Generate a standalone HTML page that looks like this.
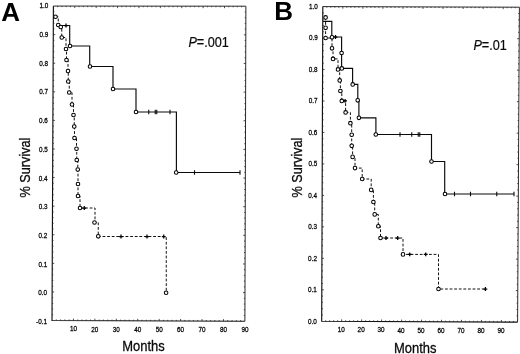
<!DOCTYPE html>
<html><head><meta charset="utf-8"><title>Survival curves</title>
<style>
html,body{margin:0;padding:0;background:#fff;}
body{width:520px;height:354px;overflow:hidden;}
svg{display:block;filter:grayscale(1);}
text{font-family:"Liberation Sans",sans-serif;fill:#0a0a0a;}
.tk{font-size:6.9px;fill:#000;stroke:#000;stroke-width:0.25;}
.ax{font-size:15px;stroke:#0a0a0a;stroke-width:0.3;}
.px{font-size:14.3px;stroke:#0a0a0a;stroke-width:0.2;}
.pl{font-size:26px;font-weight:bold;fill:#000;}
.ln{fill:none;stroke:#0a0a0a;stroke-width:1.15;}
.ds{fill:none;stroke:#111;stroke-width:1;stroke-dasharray:2.8 1.8;}
.c{fill:#fff;stroke:#000;stroke-width:1.05;}
.t{stroke:#0a0a0a;stroke-width:1.1;fill:none;}
.p{stroke:#000;stroke-width:1.25;fill:none;}
</style></head><body>
<svg width="520" height="354" viewBox="0 0 520 354">
<rect width="520" height="354" fill="#fff"/>

<path d="M53.4 6.06L245.9 6.2L244.9 321.25" fill="none" stroke="#2a2a2a" stroke-width="1"/>
<path d="M53.4 6.06L52 320.5L244.9 321.25" fill="none" stroke="#111" stroke-width="1.15"/>
<path d="M56.29 320.52v-1.1M57.68 6.06v1.1M60.57 320.53v-1.1M61.96 6.07v1.1M64.86 320.55v-1.1M66.23 6.07v1.1M69.15 320.57v-1.1M70.51 6.07v1.1M73.43 320.58v-2.0M74.79 6.08v2.0M77.72 320.6v-1.1M79.07 6.08v1.1M82.01 320.62v-1.1M83.34 6.08v1.1M86.29 320.63v-1.1M87.62 6.08v1.1M90.58 320.65v-1.1M91.9 6.09v1.1M94.87 320.67v-2.0M96.18 6.09v2.0M99.15 320.68v-1.1M100.46 6.09v1.1M103.44 320.7v-1.1M104.73 6.1v1.1M107.73 320.72v-1.1M109.01 6.1v1.1M112.01 320.73v-1.1M113.29 6.1v1.1M116.3 320.75v-2.0M117.57 6.11v2.0M120.59 320.77v-1.1M121.84 6.11v1.1M124.87 320.78v-1.1M126.12 6.11v1.1M129.16 320.8v-1.1M130.4 6.12v1.1M133.45 320.82v-1.1M134.68 6.12v1.1M137.73 320.83v-2.0M138.96 6.12v2.0M142.02 320.85v-1.1M143.23 6.13v1.1M146.31 320.87v-1.1M147.51 6.13v1.1M150.59 320.88v-1.1M151.79 6.13v1.1M154.88 320.9v-1.1M156.07 6.13v1.1M159.17 320.92v-2.0M160.34 6.14v2.0M163.45 320.93v-1.1M164.62 6.14v1.1M167.74 320.95v-1.1M168.9 6.14v1.1M172.03 320.97v-1.1M173.18 6.15v1.1M176.31 320.98v-1.1M177.46 6.15v1.1M180.6 321v-2.0M181.73 6.15v2.0M184.89 321.02v-1.1M186.01 6.16v1.1M189.17 321.03v-1.1M190.29 6.16v1.1M193.46 321.05v-1.1M194.57 6.16v1.1M197.75 321.07v-1.1M198.84 6.17v1.1M202.03 321.08v-2.0M203.12 6.17v2.0M206.32 321.1v-1.1M207.4 6.17v1.1M210.61 321.12v-1.1M211.68 6.18v1.1M214.89 321.13v-1.1M215.96 6.18v1.1M219.18 321.15v-1.1M220.23 6.18v1.1M223.47 321.17v-2.0M224.51 6.18v2.0M227.75 321.18v-1.1M228.79 6.19v1.1M232.04 321.2v-1.1M233.07 6.19v1.1M236.33 321.22v-1.1M237.34 6.19v1.1M240.61 321.23v-1.1M241.62 6.2v1.1M53.37 11.78h1.1M245.88 11.93h-1.1M53.35 17.49h1.1M245.86 17.66h-1.1M53.32 23.21h1.1M245.85 23.38h-1.1M53.3 28.93h1.1M245.83 29.11h-1.1M53.27 34.65h2.0M245.81 34.84h-2.0M53.25 40.36h1.1M245.79 40.57h-1.1M53.22 46.08h1.1M245.77 46.3h-1.1M53.2 51.8h1.1M245.75 52.03h-1.1M53.17 57.51h1.1M245.74 57.75h-1.1M53.15 63.23h2.0M245.72 63.48h-2.0M53.12 68.95h1.1M245.7 69.21h-1.1M53.09 74.67h1.1M245.68 74.94h-1.1M53.07 80.38h1.1M245.66 80.67h-1.1M53.04 86.1h1.1M245.65 86.39h-1.1M53.02 91.82h2.0M245.63 92.12h-2.0M52.99 97.53h1.1M245.61 97.85h-1.1M52.97 103.25h1.1M245.59 103.58h-1.1M52.94 108.97h1.1M245.57 109.31h-1.1M52.92 114.68h1.1M245.55 115.04h-1.1M52.89 120.4h2.0M245.54 120.76h-2.0M52.87 126.12h1.1M245.52 126.49h-1.1M52.84 131.84h1.1M245.5 132.22h-1.1M52.81 137.55h1.1M245.48 137.95h-1.1M52.79 143.27h1.1M245.46 143.68h-1.1M52.76 148.99h2.0M245.45 149.4h-2.0M52.74 154.7h1.1M245.43 155.13h-1.1M52.71 160.42h1.1M245.41 160.86h-1.1M52.69 166.14h1.1M245.39 166.59h-1.1M52.66 171.86h1.1M245.37 172.32h-1.1M52.64 177.57h2.0M245.35 178.05h-2.0M52.61 183.29h1.1M245.34 183.77h-1.1M52.59 189.01h1.1M245.32 189.5h-1.1M52.56 194.72h1.1M245.3 195.23h-1.1M52.53 200.44h1.1M245.28 200.96h-1.1M52.51 206.16h2.0M245.26 206.69h-2.0M52.48 211.88h1.1M245.25 212.41h-1.1M52.46 217.59h1.1M245.23 218.14h-1.1M52.43 223.31h1.1M245.21 223.87h-1.1M52.41 229.03h1.1M245.19 229.6h-1.1M52.38 234.74h2.0M245.17 235.33h-2.0M52.36 240.46h1.1M245.15 241.06h-1.1M52.33 246.18h1.1M245.14 246.78h-1.1M52.31 251.89h1.1M245.12 252.51h-1.1M52.28 257.61h1.1M245.1 258.24h-1.1M52.25 263.33h2.0M245.08 263.97h-2.0M52.23 269.05h1.1M245.06 269.7h-1.1M52.2 274.76h1.1M245.05 275.42h-1.1M52.18 280.48h1.1M245.03 281.15h-1.1M52.15 286.2h1.1M245.01 286.88h-1.1M52.13 291.91h2.0M244.99 292.61h-2.0M52.1 297.63h1.1M244.97 298.34h-1.1M52.08 303.35h1.1M244.95 304.07h-1.1M52.05 309.07h1.1M244.94 309.79h-1.1M52.03 314.78h1.1M244.92 315.52h-1.1" stroke="#222" stroke-width="0.8" fill="none"/>
<text class="tk" transform="translate(73.43 331.48) scale(0.92 1)" text-anchor="middle">10</text>
<text class="tk" transform="translate(94.87 331.57) scale(0.92 1)" text-anchor="middle">20</text>
<text class="tk" transform="translate(116.3 331.65) scale(0.92 1)" text-anchor="middle">30</text>
<text class="tk" transform="translate(137.73 331.73) scale(0.92 1)" text-anchor="middle">40</text>
<text class="tk" transform="translate(159.17 331.82) scale(0.92 1)" text-anchor="middle">50</text>
<text class="tk" transform="translate(180.6 331.9) scale(0.92 1)" text-anchor="middle">60</text>
<text class="tk" transform="translate(202.03 331.98) scale(0.92 1)" text-anchor="middle">70</text>
<text class="tk" transform="translate(223.47 332.07) scale(0.92 1)" text-anchor="middle">80</text>
<text class="tk" transform="translate(244.9 332.15) scale(0.92 1)" text-anchor="middle">90</text>
<text class="tk" transform="translate(48.4 8.25) scale(0.92 1)" text-anchor="end">1.0</text>
<text class="tk" transform="translate(48.27 36.96) scale(0.92 1)" text-anchor="end">0.9</text>
<text class="tk" transform="translate(48.15 65.67) scale(0.92 1)" text-anchor="end">0.8</text>
<text class="tk" transform="translate(48.02 94.38) scale(0.92 1)" text-anchor="end">0.7</text>
<text class="tk" transform="translate(47.89 123.09) scale(0.92 1)" text-anchor="end">0.6</text>
<text class="tk" transform="translate(47.76 151.8) scale(0.92 1)" text-anchor="end">0.5</text>
<text class="tk" transform="translate(47.64 180.51) scale(0.92 1)" text-anchor="end">0.4</text>
<text class="tk" transform="translate(47.51 209.22) scale(0.92 1)" text-anchor="end">0.3</text>
<text class="tk" transform="translate(47.38 237.93) scale(0.92 1)" text-anchor="end">0.2</text>
<text class="tk" transform="translate(47.25 266.64) scale(0.92 1)" text-anchor="end">0.1</text>
<text class="tk" transform="translate(47.13 295.35) scale(0.92 1)" text-anchor="end">0.0</text>
<text class="tk" transform="translate(47 324.06) scale(0.92 1)" text-anchor="end">-0.1</text>
<text class="pl" x="1.3" y="20.7">A</text>
<text class="ax" transform="translate(143.5 351.4) scale(0.865 1)" text-anchor="middle">Months</text>
<text class="ax" transform="translate(30.4 167.5) rotate(-90) scale(0.845 1)" text-anchor="middle">% Survival</text>
<text class="px" transform="translate(188.4 47) scale(0.885 1)"><tspan font-style="italic">P</tspan>=.001</text>
<path class="ln" d="M60.5 25.5 L69.7 25.5 L69.7 46 L89.7 46 L89.7 66.5 L113 66.5 L113 89 L136 89 L136 112 L176.4 112 L176.4 172.5 L240 172.5"/>
<path class="p" d="M66 23.6v3.8M64.1 25.5h3.8"/>
<path class="t" d="M148.75 109.7v4.6M155.25 109.7v4.6M156.75 109.7v4.6M170 109.7v4.6M194.5 170.2v4.6M240 170.2v4.6"/>
<path class="ds" d="M55.5 16.75 L58.25 16.75 L58.25 25 L60.75 25 L60.75 27 L61.75 27 L61.75 37.5 L66 37.5 L66 49 L66.5 49 L66.5 60 L68 60 L68 71 L68.25 71 L68.25 81.5 L69.25 81.5 L69.25 92.5 L72 92.5 L72 104.5 L73.5 104.5 L73.5 115 L74.25 115 L74.25 126.5 L74.5 126.5 L74.5 138 L76.5 138 L76.5 148.75 L76.75 148.75 L76.75 160 L77.75 160 L77.75 169.5 L78 169.5 L78 184 L78 184 L78 196 L80 196 L80 208 L95 208 L95 222.5 L98.25 222.5 L98.25 236.5 L166.25 236.5 L166.25 292.7"/>
<path class="p" d="M84.25 206.1v3.8M82.35 208h3.8M121 234.6v3.8M119.1 236.5h3.8M147 234.6v3.8M145.1 236.5h3.8M163.75 234.6v3.8M161.85 236.5h3.8"/>
<circle class="c" cx="70" cy="46" r="1.8"/>
<circle class="c" cx="90" cy="66.5" r="1.8"/>
<circle class="c" cx="113" cy="89" r="1.8"/>
<circle class="c" cx="136" cy="112" r="1.8"/>
<circle class="c" cx="176.2" cy="172.5" r="1.8"/>
<circle class="c" cx="55.5" cy="16.75" r="1.8"/>
<circle class="c" cx="58.25" cy="25" r="1.8"/>
<circle class="c" cx="60.75" cy="27" r="1.8"/>
<circle class="c" cx="61.75" cy="37.5" r="1.8"/>
<circle class="c" cx="66" cy="49" r="1.8"/>
<circle class="c" cx="66.5" cy="60" r="1.8"/>
<circle class="c" cx="68" cy="71" r="1.8"/>
<circle class="c" cx="68.25" cy="81.5" r="1.8"/>
<circle class="c" cx="69.25" cy="92.5" r="1.8"/>
<circle class="c" cx="72" cy="104.5" r="1.8"/>
<circle class="c" cx="73.5" cy="115" r="1.8"/>
<circle class="c" cx="74.25" cy="126.5" r="1.8"/>
<circle class="c" cx="74.5" cy="138" r="1.8"/>
<circle class="c" cx="76.5" cy="148.75" r="1.8"/>
<circle class="c" cx="76.75" cy="160" r="1.8"/>
<circle class="c" cx="77.75" cy="169.5" r="1.8"/>
<circle class="c" cx="78" cy="184" r="1.8"/>
<circle class="c" cx="78" cy="196" r="1.8"/>
<circle class="c" cx="80" cy="208" r="1.8"/>
<circle class="c" cx="94.5" cy="222.5" r="1.8"/>
<circle class="c" cx="98.25" cy="236.3" r="1.8"/>
<circle class="c" cx="166.1" cy="292.7" r="1.8"/>
<path d="M322.8 6.6L519.4 7.2L517.6 322.1" fill="none" stroke="#2a2a2a" stroke-width="1"/>
<path d="M322.8 6.6L321.7 321.25L517.6 322.1" fill="none" stroke="#111" stroke-width="1.15"/>
<path d="M325.69 321.27v-1.1M326.81 6.61v1.1M329.69 321.28v-1.1M330.82 6.62v1.1M333.68 321.3v-1.1M334.82 6.64v1.1M337.68 321.32v-1.1M338.83 6.65v1.1M341.67 321.34v-2.0M342.84 6.66v2.0M345.66 321.35v-1.1M346.85 6.67v1.1M349.66 321.37v-1.1M350.86 6.69v1.1M353.65 321.39v-1.1M354.87 6.7v1.1M357.64 321.41v-1.1M358.87 6.71v1.1M361.64 321.42v-2.0M362.88 6.72v2.0M365.63 321.44v-1.1M366.89 6.73v1.1M369.63 321.46v-1.1M370.9 6.75v1.1M373.62 321.48v-1.1M374.91 6.76v1.1M377.61 321.49v-1.1M378.91 6.77v1.1M381.61 321.51v-2.0M382.92 6.78v2.0M385.6 321.53v-1.1M386.93 6.8v1.1M389.6 321.54v-1.1M390.94 6.81v1.1M393.59 321.56v-1.1M394.95 6.82v1.1M397.58 321.58v-1.1M398.95 6.83v1.1M401.58 321.6v-2.0M402.96 6.84v2.0M405.57 321.61v-1.1M406.97 6.86v1.1M409.57 321.63v-1.1M410.98 6.87v1.1M413.56 321.65v-1.1M414.99 6.88v1.1M417.55 321.67v-1.1M419 6.89v1.1M421.55 321.68v-2.0M423 6.91v2.0M425.54 321.7v-1.1M427.01 6.92v1.1M429.53 321.72v-1.1M431.02 6.93v1.1M433.53 321.74v-1.1M435.03 6.94v1.1M437.52 321.75v-1.1M439.04 6.95v1.1M441.52 321.77v-2.0M443.04 6.97v2.0M445.51 321.79v-1.1M447.05 6.98v1.1M449.5 321.8v-1.1M451.06 6.99v1.1M453.5 321.82v-1.1M455.07 7v1.1M457.49 321.84v-1.1M459.08 7.02v1.1M461.49 321.86v-2.0M463.09 7.03v2.0M465.48 321.87v-1.1M467.09 7.04v1.1M469.47 321.89v-1.1M471.1 7.05v1.1M473.47 321.91v-1.1M475.11 7.06v1.1M477.46 321.93v-1.1M479.12 7.08v1.1M481.46 321.94v-2.0M483.13 7.09v2.0M485.45 321.96v-1.1M487.13 7.1v1.1M489.44 321.98v-1.1M491.14 7.11v1.1M493.44 322v-1.1M495.15 7.13v1.1M497.43 322.01v-1.1M499.16 7.14v1.1M501.42 322.03v-2.0M503.17 7.15v2.0M505.42 322.05v-1.1M507.18 7.16v1.1M509.41 322.06v-1.1M511.18 7.17v1.1M513.41 322.08v-1.1M515.19 7.19v1.1M322.78 12.89h1.1M519.36 13.5h-1.1M322.76 19.19h1.1M519.33 19.8h-1.1M322.73 25.48h1.1M519.29 26.09h-1.1M322.71 31.77h1.1M519.26 32.39h-1.1M322.69 38.06h2.0M519.22 38.69h-2.0M322.67 44.36h1.1M519.18 44.99h-1.1M322.65 50.65h1.1M519.15 51.29h-1.1M322.62 56.94h1.1M519.11 57.58h-1.1M322.6 63.24h1.1M519.08 63.88h-1.1M322.58 69.53h2.0M519.04 70.18h-2.0M322.56 75.82h1.1M519 76.48h-1.1M322.54 82.12h1.1M518.97 82.78h-1.1M322.51 88.41h1.1M518.93 89.07h-1.1M322.49 94.7h1.1M518.9 95.37h-1.1M322.47 100.99h2.0M518.86 101.67h-2.0M322.45 107.29h1.1M518.82 107.97h-1.1M322.43 113.58h1.1M518.79 114.27h-1.1M322.4 119.87h1.1M518.75 120.56h-1.1M322.38 126.17h1.1M518.72 126.86h-1.1M322.36 132.46h2.0M518.68 133.16h-2.0M322.34 138.75h1.1M518.64 139.46h-1.1M322.32 145.05h1.1M518.61 145.76h-1.1M322.29 151.34h1.1M518.57 152.05h-1.1M322.27 157.63h1.1M518.54 158.35h-1.1M322.25 163.92h2.0M518.5 164.65h-2.0M322.23 170.22h1.1M518.46 170.95h-1.1M322.21 176.51h1.1M518.43 177.25h-1.1M322.18 182.8h1.1M518.39 183.54h-1.1M322.16 189.1h1.1M518.36 189.84h-1.1M322.14 195.39h2.0M518.32 196.14h-2.0M322.12 201.68h1.1M518.28 202.44h-1.1M322.1 207.98h1.1M518.25 208.74h-1.1M322.07 214.27h1.1M518.21 215.03h-1.1M322.05 220.56h1.1M518.18 221.33h-1.1M322.03 226.85h2.0M518.14 227.63h-2.0M322.01 233.15h1.1M518.1 233.93h-1.1M321.99 239.44h1.1M518.07 240.23h-1.1M321.96 245.73h1.1M518.03 246.52h-1.1M321.94 252.03h1.1M518 252.82h-1.1M321.92 258.32h2.0M517.96 259.12h-2.0M321.9 264.61h1.1M517.92 265.42h-1.1M321.88 270.91h1.1M517.89 271.72h-1.1M321.85 277.2h1.1M517.85 278.01h-1.1M321.83 283.49h1.1M517.82 284.31h-1.1M321.81 289.79h2.0M517.78 290.61h-2.0M321.79 296.08h1.1M517.74 296.91h-1.1M321.77 302.37h1.1M517.71 303.21h-1.1M321.74 308.66h1.1M517.67 309.5h-1.1M321.72 314.96h1.1M517.64 315.8h-1.1" stroke="#222" stroke-width="0.8" fill="none"/>
<text class="tk" transform="translate(341.17 332.24) scale(0.92 1)" text-anchor="middle">10</text>
<text class="tk" transform="translate(361.14 332.32) scale(0.92 1)" text-anchor="middle">20</text>
<text class="tk" transform="translate(381.11 332.41) scale(0.92 1)" text-anchor="middle">30</text>
<text class="tk" transform="translate(401.08 332.5) scale(0.92 1)" text-anchor="middle">40</text>
<text class="tk" transform="translate(421.05 332.58) scale(0.92 1)" text-anchor="middle">50</text>
<text class="tk" transform="translate(441.02 332.67) scale(0.92 1)" text-anchor="middle">60</text>
<text class="tk" transform="translate(460.99 332.76) scale(0.92 1)" text-anchor="middle">70</text>
<text class="tk" transform="translate(480.96 332.84) scale(0.92 1)" text-anchor="middle">80</text>
<text class="tk" transform="translate(500.92 332.93) scale(0.92 1)" text-anchor="middle">90</text>
<text class="tk" transform="translate(317.8 8.55) scale(0.92 1)" text-anchor="end">1.0</text>
<text class="tk" transform="translate(317.69 40.07) scale(0.92 1)" text-anchor="end">0.9</text>
<text class="tk" transform="translate(317.58 71.58) scale(0.92 1)" text-anchor="end">0.8</text>
<text class="tk" transform="translate(317.47 103.09) scale(0.92 1)" text-anchor="end">0.7</text>
<text class="tk" transform="translate(317.36 134.61) scale(0.92 1)" text-anchor="end">0.6</text>
<text class="tk" transform="translate(317.25 166.12) scale(0.92 1)" text-anchor="end">0.5</text>
<text class="tk" transform="translate(317.14 197.64) scale(0.92 1)" text-anchor="end">0.4</text>
<text class="tk" transform="translate(317.03 229.16) scale(0.92 1)" text-anchor="end">0.3</text>
<text class="tk" transform="translate(316.92 260.67) scale(0.92 1)" text-anchor="end">0.2</text>
<text class="tk" transform="translate(316.81 292.19) scale(0.92 1)" text-anchor="end">0.1</text>
<text class="tk" transform="translate(316.7 323.7) scale(0.92 1)" text-anchor="end">0.0</text>
<text class="pl" x="274.2" y="20.3">B</text>
<text class="ax" transform="translate(415.3 352.8) scale(0.865 1)" text-anchor="middle">Months</text>
<text class="ax" transform="translate(302.4 167.5) rotate(-90) scale(0.845 1)" text-anchor="middle">% Survival</text>
<text class="px" transform="translate(473.4 49.8) scale(0.885 1)"><tspan font-style="italic">P</tspan>=.01</text>
<path class="ln" d="M323 21.4 L331.8 21.4 L331.8 37 L341.6 37 L341.6 68.4 L352.6 68.4 L352.6 84.4 L357.8 84.4 L357.8 100.3 L358.9 100.3 L358.9 117.8 L375.9 117.8 L375.9 134.5 L431.5 134.5 L431.5 161.5 L444.7 161.5 L444.7 194 L514 194"/>
<path class="t" d="M400 132.2v4.6M411.75 132.2v4.6M418.25 132.2v4.6M419.75 132.2v4.6M454.5 191.7v4.6M470.5 191.7v4.6M496.75 191.7v4.6M514 191.7v4.6"/>
<path class="p" d="M335.5 35.1v3.8M333.6 37h3.8"/>
<path class="ds" d="M325.6 17.4 L325.6 17.4 L325.6 27.8 L325.6 27.8 L325.6 38 L332 38 L332 48.3 L333 48.3 L333 58.9 L338 58.9 L338 69.4 L339.7 69.4 L339.7 80.4 L340.4 80.4 L340.4 91 L341.8 91 L341.8 100.9 L345.6 100.9 L345.6 112.4 L350.4 112.4 L350.4 123.2 L351.7 123.2 L351.7 134.7 L351.7 134.7 L351.7 145.8 L352.6 145.8 L352.6 156.9 L355 156.9 L355 168.1 L362.2 168.1 L362.2 179 L371.2 179 L371.2 189.9 L373.4 189.9 L373.4 202 L374.7 202 L374.7 214.4 L378.3 214.4 L378.3 226.2 L380.5 226.2 L380.5 238 L403 238 L403 254.4 L438.5 254.4 L438.5 289 L485.4 289"/>
<path class="p" d="M345.1 99v3.8M343.2 100.9h3.8M386 236.1v3.8M384.1 238h3.8M397.7 236.1v3.8M395.8 238h3.8M409.7 252.5v3.8M407.8 254.4h3.8M425.7 252.5v3.8M423.8 254.4h3.8M485.4 287.1v3.8M483.5 289h3.8"/>
<circle class="c" cx="332" cy="37.3" r="1.8"/>
<circle class="c" cx="341.6" cy="53" r="1.8"/>
<circle class="c" cx="341.8" cy="68.4" r="1.8"/>
<circle class="c" cx="352.7" cy="84.4" r="1.8"/>
<circle class="c" cx="357.7" cy="100.3" r="1.8"/>
<circle class="c" cx="358.9" cy="117.8" r="1.8"/>
<circle class="c" cx="375.8" cy="134.5" r="1.8"/>
<circle class="c" cx="431.5" cy="161.5" r="1.8"/>
<circle class="c" cx="445" cy="194" r="1.8"/>
<circle class="c" cx="325.6" cy="17.4" r="1.8"/>
<circle class="c" cx="325.6" cy="27.8" r="1.8"/>
<circle class="c" cx="325.6" cy="38" r="1.8"/>
<circle class="c" cx="332" cy="48.3" r="1.8"/>
<circle class="c" cx="333" cy="58.9" r="1.8"/>
<circle class="c" cx="338" cy="69.4" r="1.8"/>
<circle class="c" cx="339.7" cy="80.4" r="1.8"/>
<circle class="c" cx="340.4" cy="91" r="1.8"/>
<circle class="c" cx="341.8" cy="100.9" r="1.8"/>
<circle class="c" cx="345.6" cy="112.4" r="1.8"/>
<circle class="c" cx="350.4" cy="123.2" r="1.8"/>
<circle class="c" cx="351.7" cy="134.7" r="1.8"/>
<circle class="c" cx="351.7" cy="145.8" r="1.8"/>
<circle class="c" cx="352.6" cy="156.9" r="1.8"/>
<circle class="c" cx="355" cy="168.1" r="1.8"/>
<circle class="c" cx="362.2" cy="179" r="1.8"/>
<circle class="c" cx="371.2" cy="189.9" r="1.8"/>
<circle class="c" cx="373.4" cy="202" r="1.8"/>
<circle class="c" cx="374.7" cy="214.4" r="1.8"/>
<circle class="c" cx="378.3" cy="226.2" r="1.8"/>
<circle class="c" cx="380.5" cy="238" r="1.8"/>
<circle class="c" cx="403" cy="254.4" r="1.8"/>
<circle class="c" cx="438.5" cy="289" r="1.8"/>
</svg></body></html>
